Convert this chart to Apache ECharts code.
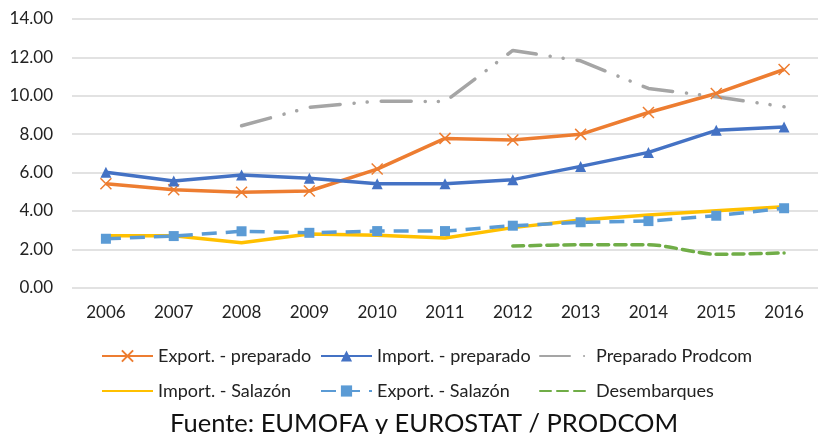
<!DOCTYPE html>
<html>
<head>
<meta charset="utf-8">
<script src="https://cdn.jsdelivr.net/npm/echarts@6/dist/echarts.min.js"></script>
<style>
html,body{margin:0;padding:0;background:#fff;}
#chart{width:818px;height:434px;}
</style>
</head>
<body>
<div id="chart"></div>
<script>
var years = ['2006','2007','2008','2009','2010','2011','2012','2013','2014','2015','2016'];
var exportPreparado = [5.42, 5.10, 4.97, 5.04, 6.18, 7.78, 7.70, 7.99, 9.13, 10.12, 11.37];
var importPreparado = [6.01, 5.56, 5.87, 5.70, 5.42, 5.42, 5.63, 6.32, 7.05, 8.20, 8.37];
var preparadoProdcom = [null, null, 8.44, 9.40, 9.72, 9.70, 12.36, 11.82, 10.38, 9.95, 9.43];
var importSalazon = [2.71, 2.71, 2.34, 2.80, 2.73, 2.59, 3.13, 3.53, 3.79, 4.01, 4.22];
var exportSalazon = [2.55, 2.69, 2.94, 2.86, 2.95, 2.95, 3.23, 3.41, 3.47, 3.75, 4.14];
var desembarques = [null, null, null, null, null, null, 2.17, 2.24, 2.24, 1.74, 1.81];
var yTicks = [0, 2, 4, 6, 8, 10, 12, 14];
var sourceText = 'Fuente: EUMOFA y EUROSTAT / PRODCOM';

var FONT = 'Lato';
var chart = echarts.init(document.getElementById('chart'), null, {renderer: 'canvas'});

function leg(name, left, top, hideSymbol) {
  var l = {
    data: [name], left: left, top: top, itemWidth: 51, itemHeight: 14,
    padding: 0, selectedMode: false,
    textStyle: {fontFamily: FONT, fontSize: 18, color: '#222'}
  };
  if (hideSymbol) {
    l.itemStyle = {color: 'rgba(0,0,0,0)', borderColor: 'rgba(0,0,0,0)', borderWidth: 0};
  }
  return l;
}

var option = {
  animation: false,
  backgroundColor: '#fff',
  textStyle: {fontFamily: FONT},
  title: {
    text: sourceText, left: 165, top: 406,
    textStyle: {fontFamily: FONT, fontSize: 25.5, fontWeight: 'normal', color: '#111'}
  },
  legend: [
    leg('Export. - preparado', 101, 347, false),
    leg('Import. - preparado', 320, 347, false),
    leg('Preparado Prodcom', 539, 347, true),
    leg('Import. - Salazón', 101, 382, true),
    leg('Export. - Salazón', 320, 382, false),
    leg('Desembarques', 539, 382, true)
  ],
  grid: {left: 72, top: 19, width: 753.5, height: 268.7, containLabel: false},
  xAxis: {
    type: 'category', data: years, boundaryGap: true,
    axisLine: {show: false}, axisTick: {show: false},
    axisLabel: {fontFamily: FONT, fontSize: 17, color: '#222', margin: 16}
  },
  yAxis: {
    type: 'value', min: yTicks[0], max: yTicks[yTicks.length - 1], interval: 2,
    axisLine: {show: false}, axisTick: {show: false},
    axisLabel: {fontFamily: FONT, fontSize: 17, color: '#222', margin: 19,
      formatter: function (v) { return v.toFixed(2); }},
    splitLine: {lineStyle: {color: '#d9d9d9', width: 1.5}}
  },
  series: [
    {
      name: 'Export. - preparado', type: 'line', data: exportPreparado,
      symbol: 'path://M0,0L10,10M10,0L0,10', symbolSize: 11,
      lineStyle: {color: '#ED7D31', width: 3.5},
      itemStyle: {color: '#ED7D31', borderColor: '#ED7D31', borderWidth: 1.5}
    },
    {
      name: 'Import. - preparado', type: 'line', data: importPreparado,
      symbol: 'triangle', symbolSize: 11,
      lineStyle: {color: '#4472C4', width: 3.5},
      itemStyle: {color: '#4472C4'}
    },
    {
      name: 'Preparado Prodcom', type: 'line', data: preparadoProdcom,
      symbol: 'none', connectNulls: false,
      lineStyle: {color: '#A5A5A5', width: 3.5, type: [30, 14, 0.1, 13, 0.1, 14], cap: 'round'},
      itemStyle: {color: '#A5A5A5'}
    },
    {
      name: 'Import. - Salazón', type: 'line', data: importSalazon,
      symbol: 'none',
      lineStyle: {color: '#FFC000', width: 3.5},
      itemStyle: {color: '#FFC000'}
    },
    {
      name: 'Export. - Salazón', type: 'line', data: exportSalazon,
      symbol: 'rect', symbolSize: 10,
      lineStyle: {color: '#5B9BD5', width: 3.5, type: [15, 9]},
      itemStyle: {color: '#5B9BD5'}
    },
    {
      name: 'Desembarques', type: 'line', data: desembarques,
      symbol: 'none', smooth: 0.25,
      lineStyle: {color: '#70AD47', width: 3.5, type: [11, 6], cap: 'round'},
      itemStyle: {color: '#70AD47'}
    }
  ]
};
chart.setOption(option);
</script>
</body>
</html>
